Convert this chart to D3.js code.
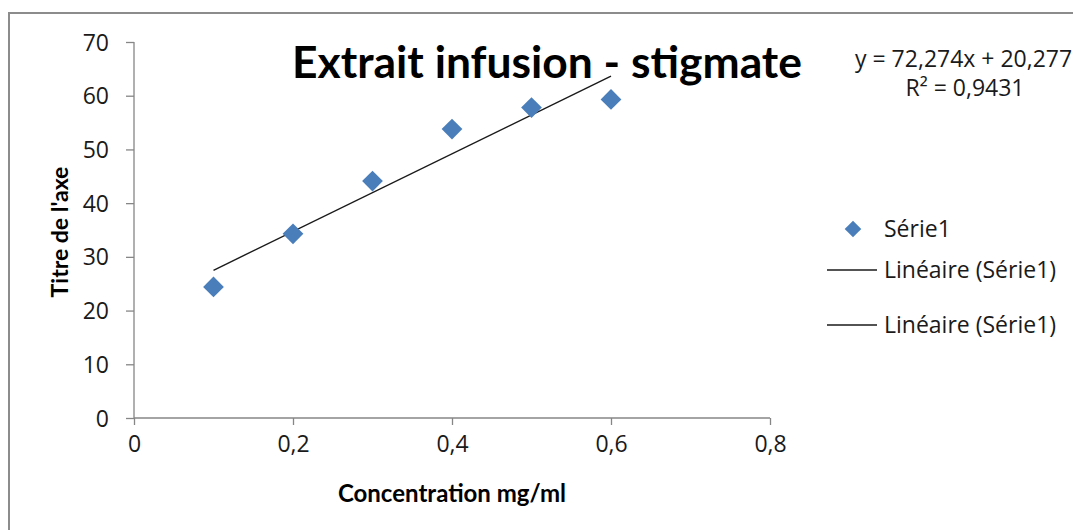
<!DOCTYPE html>
<html>
<head>
<meta charset="utf-8">
<script src="https://cdn.jsdelivr.net/npm/d3@7"></script>
<style>
  html, body { margin: 0; padding: 0; background: #fff; }
  svg { display: block; }
</style>
</head>
<body>
<svg id="chart" width="1073" height="530"></svg>
<script>
// ---- data ----
const concentrations = [0.1, 0.2, 0.3, 0.4, 0.5, 0.6];
const values = [24.4, 34.3, 44.1, 53.8, 57.8, 59.3];
const slope = 72.274;
const intercept = 20.277;
const xTicks = [0, 0.2, 0.4, 0.6, 0.8];
const xTickLabels = ["0", "0,2", "0,4", "0,6", "0,8"];
const yTicks = [0, 10, 20, 30, 40, 50, 60, 70];
const titleText = "Extrait infusion - stigmate";
const xTitle = "Concentration mg/ml";
const yTitle = "Titre de l'axe";
const equationText = "y = 72,274x + 20,277";
const r2Text = "R² = 0,9431";
const legendLabels = ["Série1", "Linéaire (Série1)", "Linéaire (Série1)"];

const svg = d3.select("#chart");
const axisColor = "#868686";
const markColor = "#4a7ebb";
const font = "'Open Sans', 'DejaVu Sans', sans-serif";
const boldFont = "Lato, 'Open Sans', sans-serif";
const labelSize = "23px";

// outer frame
svg.append("rect").attr("x", 9).attr("y", 13).attr("width", 1200).attr("height", 700)
  .attr("fill", "none").attr("stroke", "#8c8c8c").attr("stroke-width", 2);

const x = d3.scaleLinear().domain([0, 0.8]).range([134, 770]);
const y = d3.scaleLinear().domain([0, 70]).range([418, 42]);

// y axis
const yAxis = svg.append("g").attr("transform", `translate(${x(0)},0)`)
  .call(d3.axisLeft(y).tickValues(yTicks).tickSize(8).tickPadding(17).tickFormat(d => String(d)));
// x axis
const xAxis = svg.append("g").attr("transform", `translate(0,${y(0)})`)
  .call(d3.axisBottom(x).tickValues(xTicks).tickSize(7).tickPadding(9).tickFormat((d, i) => xTickLabels[i]));

[yAxis, xAxis].forEach(g => {
  g.select(".domain").attr("stroke", axisColor).attr("stroke-width", 1.3);
  g.selectAll(".tick line").attr("stroke", axisColor).attr("stroke-width", 1.3);
  g.selectAll(".tick text").attr("fill", "#1a1a1a").style("font-family", font).style("font-size", labelSize);
});
yAxis.selectAll(".tick text").attr("dy", "0.35em");
xAxis.selectAll(".tick text").attr("dy", "0.8em");
yAxis.select(".domain").attr("d", `M0,${y(70)}V${y(0)}`);
xAxis.select(".domain").attr("d", `M${x(0)},0H${x(0.8)}`);

// trend line
const tx0 = d3.min(concentrations), tx1 = d3.max(concentrations);
svg.append("line")
  .attr("x1", x(tx0)).attr("y1", y(slope * tx0 + intercept))
  .attr("x2", x(tx1)).attr("y2", y(slope * tx1 + intercept))
  .attr("stroke", "#1a1a1a").attr("stroke-width", 1.4);

// points
const diamond = d3.symbol().type(d3.symbolSquare).size(215);
svg.append("g").selectAll("path").data(concentrations).join("path")
  .attr("d", diamond)
  .attr("transform", (d, i) => `translate(${x(d)},${y(values[i])}) rotate(45)`)
  .attr("fill", markColor);

// title
const title = svg.append("text").attr("x", 547).attr("y", 78).attr("text-anchor", "middle")
  .style("font-family", boldFont).style("font-weight", "bold")
  .style("font-size", "40px").attr("fill", "#000").text(titleText);
const tw = title.node().getComputedTextLength();
title.style("font-size", (40 * 510 / tw).toFixed(1) + "px");

// equation
svg.append("text").attr("x", 855).attr("y", 67)
  .style("font-family", font).style("font-size", labelSize).attr("fill", "#1a1a1a").text(equationText);
svg.append("text").attr("x", 965).attr("y", 96).attr("text-anchor", "middle")
  .style("font-family", font).style("font-size", labelSize).attr("fill", "#1a1a1a").text(r2Text);

// axis titles
svg.append("text").attr("x", 452).attr("y", 502).attr("text-anchor", "middle")
  .style("font-family", boldFont).style("font-weight", "bold")
  .style("font-size", "24px").attr("fill", "#000").text(xTitle);
svg.append("text").attr("transform", "translate(68,232) rotate(-90)").attr("text-anchor", "middle")
  .style("font-family", boldFont).style("font-weight", "bold")
  .style("font-size", "23px").attr("fill", "#000").text(yTitle);

// legend
const legendY = [229, 270, 325];
const leg = svg.append("g");
leg.append("path").attr("d", diamond)
  .attr("transform", `translate(853,${legendY[0]}) rotate(45) scale(0.8)`).attr("fill", markColor);
[1, 2].forEach(i => {
  leg.append("line").attr("x1", 827).attr("x2", 877).attr("y1", legendY[i]).attr("y2", legendY[i])
    .attr("stroke", "#1a1a1a").attr("stroke-width", 1.4);
});
legendLabels.forEach((t, i) => {
  leg.append("text").attr("x", 884).attr("y", legendY[i]).attr("dy", "0.35em")
    .style("font-family", font).style("font-size", labelSize).attr("fill", "#1a1a1a").text(t);
});
</script>
</body>
</html>
